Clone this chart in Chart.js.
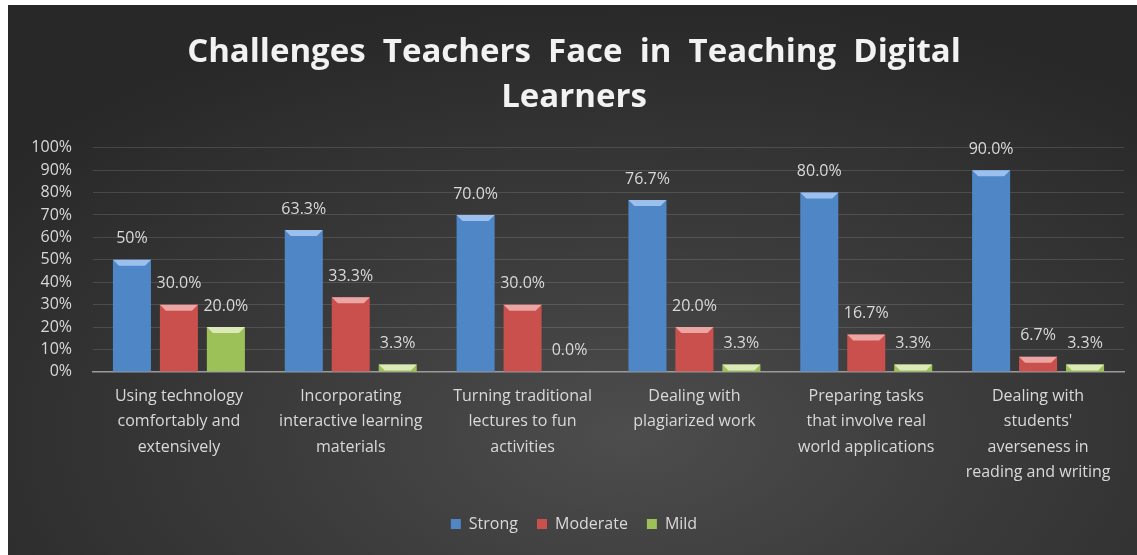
<!DOCTYPE html>
<html>
<head>
<meta charset="utf-8">
<script src="https://cdn.jsdelivr.net/npm/chart.js@4"></script>
<style>
  html, body { margin: 0; padding: 0; background: #ffffff; }
  #wrap {
    position: absolute; left: 8px; top: 5px; width: 1129px; height: 550px;
    background: radial-gradient(ellipse 70% 80% at 55% 78%, #4d4d4d 0%, #3b3b3b 45%, #282828 100%);
  }
</style>
</head>
<body>
<div id="wrap"><canvas id="chart"></canvas></div>
<script>
// Данные
const categories = [
    ['Using technology', 'comfortably and', 'extensively'],
    ['Incorporating', 'interactive learning', 'materials'],
    ['Turning traditional', 'lectures to fun', 'activities'],
    ['Dealing with', 'plagiarized work'],
    ['Preparing tasks', 'that involve real', 'world applications'],
    ['Dealing with', "students'", 'averseness in', 'reading and writing']
];
const strong = [50, 63.3, 70, 76.7, 80, 90];
const moderate = [30, 33.3, 30, 20, 16.7, 6.7];
const mild = [20, 3.3, 0, 3.3, 3.3, 3.3];
const strongDecimals = [0, 1, 1, 1, 1, 1];
const yTicks = [0, 10, 20, 30, 40, 50, 60, 70, 80, 90, 100];

const FONT = '"Open Sans", Lato, sans-serif';
const TEXT = '#d9d9d9';

// Цвета столбцов: основа, край, блик
const palette = {
    Strong: ['#4f86c6', '#3763a0', '#9cc0ee'],
    Moderate: ['#c9504c', '#9a3431', '#eba5a3'],
    Mild: ['#9dc159', '#769437', '#dbeab8']
};

function barFill(name) {
    return (c) => {
        const bar = c.element;
        const area = c.chart.chartArea;
        if (!area || !bar || bar.width == null) return palette[name][0];
        const g = c.chart.ctx.createLinearGradient(bar.x - bar.width / 2, 0, bar.x + bar.width / 2, 0);
        g.addColorStop(0, palette[name][1]);
        g.addColorStop(0.25, palette[name][0]);
        g.addColorStop(0.75, palette[name][0]);
        g.addColorStop(1, palette[name][1]);
        return g;
    };
}

// Блик сверху столбца и подписи значений
const barDecor = {
    id: 'barDecor',
    afterDatasetsDraw(chart) {
        const ctx = chart.ctx;
        chart.data.datasets.forEach((ds, di) => {
            const meta = chart.getDatasetMeta(di);
            meta.data.forEach((bar, i) => {
                const v = ds.data[i];
                const h = bar.base - bar.y;
                const left = bar.x - bar.width / 2;
                const right = bar.x + bar.width / 2;
                if (h > 1) {
                    const bev = Math.min(6, h);
                    ctx.save();
                    ctx.fillStyle = palette[ds.label][2];
                    ctx.beginPath();
                    ctx.moveTo(left, bar.y);
                    ctx.lineTo(right, bar.y);
                    ctx.lineTo(right - bev, bar.y + bev);
                    ctx.lineTo(left + bev, bar.y + bev);
                    ctx.closePath();
                    ctx.fill();
                    ctx.restore();
                }
                const dec = di === 0 ? strongDecimals[i] : 1;
                ctx.save();
                ctx.font = '16px ' + FONT;
                ctx.fillStyle = TEXT;
                ctx.textAlign = 'center';
                ctx.textBaseline = 'middle';
                ctx.fillText(v.toFixed(dec) + '%', bar.x, bar.y - 21);
                ctx.restore();
            });
        });
    }
};

const ctx = document.getElementById('chart').getContext('2d');
new Chart(ctx, {
    type: 'bar',
    data: {
        labels: categories,
        datasets: [
            { label: 'Strong', data: strong, backgroundColor: barFill('Strong') },
            { label: 'Moderate', data: moderate, backgroundColor: barFill('Moderate') },
            { label: 'Mild', data: mild, backgroundColor: barFill('Mild') }
        ]
    },
    options: {
        responsive: true,
        maintainAspectRatio: false,
        animation: false,
        categoryPercentage: 0.82,
        barPercentage: 0.81,
        layout: { padding: { left: 16, right: 13, top: 0, bottom: 13 } },
        plugins: {
            title: {
                display: true,
                text: ['Challenges  Teachers  Face  in  Teaching  Digital', 'Learners'],
                color: '#f2f2f2',
                font: { family: FONT, size: 33, weight: 'bold', lineHeight: 1.36 },
                padding: { top: 25, bottom: 28 }
            },
            legend: {
                position: 'bottom',
                labels: {
                    color: TEXT,
                    font: { family: FONT, size: 16 },
                    boxWidth: 10,
                    boxHeight: 10,
                    padding: 19,
                    generateLabels(chart) {
                        return chart.data.datasets.map((ds, i) => ({
                            text: ds.label,
                            fillStyle: palette[ds.label][0],
                            strokeStyle: palette[ds.label][0],
                            lineWidth: 0,
                            fontColor: TEXT,
                            datasetIndex: i
                        }));
                    }
                }
            },
            tooltip: { enabled: false }
        },
        scales: {
            x: {
                grid: { display: false, drawTicks: false },
                border: { color: '#9a9a9a', width: 1.5 },
                ticks: {
                    color: TEXT,
                    font: { family: FONT, size: 16, lineHeight: 1.58 },
                    padding: 12,
                    maxRotation: 0,
                    autoSkip: false
                }
            },
            y: {
                min: 0,
                max: 100,
                afterBuildTicks(axis) {
                    axis.ticks = yTicks.map(v => ({ value: v }));
                },
                afterFit(axis) {
                    axis.width = 69;
                },
                grid: { color: 'rgba(255,255,255,0.13)', drawTicks: false },
                border: { display: false },
                ticks: {
                    color: TEXT,
                    font: { family: FONT, size: 16 },
                    padding: 21,
                    autoSkip: false,
                    callback: v => v + '%'
                }
            }
        }
    },
    plugins: [barDecor]
});
</script>
</body>
</html>
